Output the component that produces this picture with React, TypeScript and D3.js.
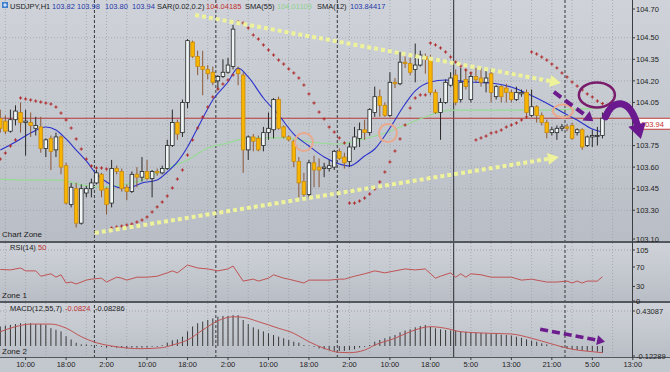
import React from "react"
import * as d3 from "d3"

const W = 670
const H = 372
const AXIS_X = 632

// USDJPY H1 bars, oldest first
const open = [
  103.94, 103.92, 103.85, 103.93, 103.98, 103.91, 103.91, 103.87, 103.88, 103.73,
  103.80, 103.72, 103.81, 103.61, 103.34, 103.45, 103.21, 103.42, 103.45, 103.49,
  103.55, 103.45, 103.35, 103.59, 103.57, 103.46, 103.43, 103.55, 103.53, 103.57,
  103.52, 103.57, 103.56, 103.59, 103.75, 103.91, 103.84, 104.05, 104.47, 104.37,
  104.30, 104.28, 104.26, 104.20, 104.23, 104.26, 104.30, 104.28, 104.24, 103.72,
  103.81, 103.80, 103.75, 103.84, 103.86, 104.07, 103.88, 103.81, 103.78, 103.64,
  103.50, 103.41, 103.63, 103.60, 103.59, 103.59, 103.60, 103.71, 103.67, 103.64,
  103.74, 103.80, 103.86, 103.84, 103.98, 104.09, 104.03, 103.96, 104.19, 104.18,
  104.33, 104.32, 104.28, 104.31, 104.37, 104.35, 104.12, 103.98, 104.05, 104.17,
  104.24, 104.07, 104.21, 104.07, 104.23, 104.22, 104.19, 104.25, 104.09, 104.16,
  104.15, 104.12, 104.07, 104.11, 104.12, 103.96, 104.02, 103.96, 103.91, 103.84,
  103.84, 103.87, 103.88, 103.89, 103.84, 103.86, 103.75, 103.81, 103.82, 103.82,
]
const high = [
  104.00, 103.96, 104.00, 104.03, 104.05, 104.00, 103.98, 103.95, 103.95, 103.80,
  103.82, 103.84, 103.82, 103.63, 103.49, 103.49, 103.48, 103.47, 103.52, 103.58,
  103.56, 103.46, 103.65, 103.61, 103.59, 103.48, 103.57, 103.60, 103.67, 103.65,
  103.58, 103.59, 103.61, 103.79, 104.00, 103.93, 104.07, 104.49, 104.48, 104.41,
  104.41, 104.31, 104.30, 104.24, 104.35, 104.36, 104.59, 104.30, 104.26, 103.82,
  103.83, 103.82, 103.88, 103.98, 104.08, 104.09, 103.89, 103.82, 103.79, 103.67,
  103.56, 103.65, 103.68, 103.66, 103.63, 103.65, 103.72, 103.73, 103.70, 103.77,
  103.88, 103.91, 103.93, 104.01, 104.16, 104.14, 104.05, 104.26, 104.22, 104.40,
  104.37, 104.36, 104.46, 104.41, 104.39, 104.38, 104.14, 104.08, 104.21, 104.26,
  104.28, 104.29, 104.28, 104.26, 104.29, 104.29, 104.29, 104.28, 104.17, 104.17,
  104.18, 104.14, 104.16, 104.14, 104.14, 104.14, 104.03, 103.98, 103.93, 103.88,
  103.89, 103.90, 103.90, 103.91, 103.87, 103.87, 103.82, 103.86, 103.88, 103.98,
]
const low = [
  103.84, 103.83, 103.84, 103.89, 103.84, 103.68, 103.81, 103.82, 103.70, 103.67,
  103.58, 103.67, 103.55, 103.34, 103.32, 103.18, 103.20, 103.39, 103.39, 103.48,
  103.39, 103.27, 103.32, 103.55, 103.43, 103.37, 103.42, 103.46, 103.50, 103.51,
  103.39, 103.54, 103.55, 103.58, 103.74, 103.79, 103.81, 104.01, 104.36, 104.24,
  104.10, 104.21, 104.17, 104.14, 104.22, 104.25, 104.28, 104.17, 103.56, 103.65,
  103.71, 103.71, 103.71, 103.79, 103.80, 103.86, 103.80, 103.78, 103.60, 103.39,
  103.37, 103.39, 103.46, 103.46, 103.53, 103.57, 103.58, 103.65, 103.59, 103.60,
  103.72, 103.74, 103.79, 103.82, 103.95, 103.95, 103.95, 103.95, 104.15, 104.17,
  104.29, 104.24, 104.19, 104.30, 104.25, 104.10, 103.97, 103.79, 104.04, 104.16,
  104.03, 104.05, 104.14, 104.05, 104.19, 104.16, 104.12, 104.05, 104.07, 104.05,
  104.05, 104.05, 104.06, 104.09, 103.96, 103.95, 103.91, 103.89, 103.80, 103.82,
  103.79, 103.85, 103.85, 103.79, 103.82, 103.72, 103.74, 103.74, 103.75, 103.80,
]
const close = [
  103.87, 103.85, 103.93, 103.99, 103.91, 103.92, 103.89, 103.89, 103.73, 103.79,
  103.71, 103.81, 103.60, 103.35, 103.46, 103.21, 103.45, 103.45, 103.49, 103.56,
  103.44, 103.34, 103.59, 103.57, 103.45, 103.43, 103.55, 103.53, 103.57, 103.52,
  103.57, 103.56, 103.59, 103.75, 103.91, 103.83, 104.05, 104.48, 104.37, 104.30,
  104.28, 104.25, 104.19, 104.23, 104.26, 104.31, 104.56, 104.25, 103.72, 103.81,
  103.78, 103.72, 103.84, 103.87, 104.07, 103.87, 103.81, 103.79, 103.64, 103.49,
  103.41, 103.63, 103.58, 103.58, 103.60, 103.61, 103.71, 103.66, 103.63, 103.74,
  103.81, 103.86, 103.84, 104.00, 104.09, 104.03, 103.96, 104.19, 104.18, 104.33,
  104.32, 104.26, 104.31, 104.38, 104.35, 104.12, 103.98, 104.05, 104.19, 104.22,
  104.05, 104.19, 104.16, 104.23, 104.21, 104.19, 104.22, 104.12, 104.16, 104.09,
  104.12, 104.07, 104.12, 104.12, 103.98, 104.02, 103.96, 103.91, 103.84, 103.86,
  103.87, 103.88, 103.87, 103.80, 103.86, 103.74, 103.81, 103.82, 103.82, 103.94,
]

// Parabolic SAR(0.02, 0.2), one dot per bar
const sar = [
  103.656, 103.698, 103.747, 103.789, 104.081, 104.074, 104.067, 104.06, 104.053, 104.046,
  104.039, 104.018, 103.976, 103.928, 103.872, 103.796, 103.726, 103.656, 103.608, 103.594,
  103.594, 103.587, 103.176, 103.183, 103.19, 103.197, 103.204, 103.218, 103.232, 103.253,
  103.288, 103.323, 103.357, 103.399, 103.455, 103.517, 103.58, 103.684, 103.789, 103.872,
  103.949, 104.018, 104.088, 104.143, 104.178, 104.206, 104.241, 104.61, 104.603, 104.568,
  104.519, 104.491, 104.45, 104.415, 104.38, 104.345, 104.317, 104.283, 104.255, 104.22,
  104.171, 104.109, 104.046, 103.983, 103.935, 103.879, 103.844, 103.803, 103.768, 103.35,
  103.35, 103.364, 103.385, 103.413, 103.448, 103.497, 103.566, 103.636, 103.712, 103.796,
  103.893, 104.011, 104.081, 104.102, 104.102, 104.463, 104.45, 104.429, 104.401, 104.366,
  104.331, 104.303, 104.276, 104.255, 103.789, 103.803, 103.816, 103.837, 103.844, 103.858,
  103.879, 103.893, 103.907, 103.928, 103.949, 104.401, 104.387, 104.366, 104.345, 104.317,
  104.29, 104.255, 104.227, 104.192, 104.164, 104.137, 104.109, 104.088, 104.06, 104.04185,
]

// moving averages, sampled at bar indices
const sma12Idx = [0, 3, 6, 9, 11, 13, 15, 17, 19, 21, 24, 26, 28, 31, 33, 35, 37, 39, 42, 45, 47, 49, 52, 55, 58, 61, 64, 67, 69, 72, 74, 77, 80, 82, 85, 88, 93, 97, 101, 103, 106, 109, 111, 114, 117, 119]
const sma12 = [103.719, 103.775, 103.837, 103.879, 103.858, 103.796, 103.719, 103.643, 103.552, 103.497, 103.455, 103.462, 103.49, 103.51, 103.566, 103.636, 103.74, 103.872, 104.067, 104.192, 104.29, 104.227, 104.081, 103.963, 103.83, 103.747, 103.67, 103.622, 103.608, 103.677, 103.726, 103.872, 104.039, 104.13, 104.192, 104.206, 104.192, 104.185, 104.157, 104.13, 104.081, 104.025, 103.983, 103.928, 103.865, 103.84417]
const sma55Idx = [0, 6, 12, 16, 20, 24, 28, 33, 37, 41, 45, 49, 56, 63, 67, 71, 76, 80, 84, 89, 95, 101, 108, 113, 119]
const sma55 = [103.517, 103.51, 103.51, 103.476, 103.462, 103.476, 103.51, 103.594, 103.65, 103.733, 103.768, 103.803, 103.803, 103.768, 103.761, 103.789, 103.837, 103.893, 103.949, 103.997, 103.997, 103.997, 103.997, 104.004, 104.01109]

// RSI(14)
const rsiIdx = [0, 2, 4, 5, 7, 8, 10, 11, 12, 13, 14, 15, 17, 18, 20, 21, 23, 24, 25, 27, 29, 31, 33, 34, 35, 37, 39, 41, 43, 45, 46, 48, 50, 51, 53, 54, 56, 57, 60, 61, 65, 67, 68, 70, 72, 74, 76, 78, 80, 82, 84, 86, 87, 89, 90, 91, 92, 93, 95, 97, 99, 101, 103, 105, 107, 108, 110, 112, 113, 114, 115, 116, 118, 119]
const rsi = [65, 64, 68, 62, 62, 51, 56, 49, 54, 37, 39, 35, 43, 45, 47, 39, 49, 47, 43, 49, 49, 51, 58, 62, 58, 74, 68, 66, 62, 66, 72, 41, 45, 41, 47, 54, 47, 45, 37, 43, 43, 45, 45, 51, 56, 62, 58, 62, 66, 64, 66, 47, 51, 58, 49, 56, 49, 56, 54, 49, 49, 49, 43, 45, 41, 39, 39, 41, 37, 41, 37, 41, 41, 50]

// MACD(12,55,7): main as bars, signal as line
const macd = [
  0.24, 0.25, 0.26, 0.27, 0.28, 0.28, 0.28, 0.27, 0.27, 0.26,
  0.22, 0.2, 0.18, 0.12, 0.08, 0.04, 0.02, 0.02, 0.01, 0.01,
  -0.01, -0.02, -0.01, -0.02, -0.02, -0.03, -0.02, -0.02, -0.02, -0.02,
  -0.01, -0.01, 0.01, 0.04, 0.07, 0.08, 0.115, 0.18, 0.24, 0.28,
  0.3, 0.32, 0.34, 0.36, 0.37, 0.37, 0.38, 0.38, 0.32, 0.27,
  0.23, 0.205, 0.18, 0.156, 0.135, 0.115, 0.095, 0.074, 0.053, 0.041,
  0.012, 0.005, -0.01, -0.03, -0.04, -0.05, -0.06, -0.06, -0.06, -0.05,
  -0.04, -0.02, -0.01, 0.012, 0.053, 0.074, 0.095, 0.115, 0.135, 0.168,
  0.19, 0.205, 0.23, 0.246, 0.259, 0.238, 0.218, 0.205, 0.197, 0.19,
  0.19, 0.176, 0.176, 0.168, 0.164, 0.16, 0.156, 0.156, 0.148, 0.14,
  0.135, 0.13, 0.115, 0.1, 0.082, 0.066, 0.053, 0.033, 0.02, 0.004,
  0, -0.02, -0.033, -0.04, -0.05, -0.057, -0.06, -0.066, -0.07, -0.0824,
]
const signalIdx = [0, 3, 6, 10, 13, 16, 19, 22, 25, 28, 32, 34, 37, 40, 43, 46, 48, 51, 55, 58, 59, 61, 64, 67, 69, 72, 74, 78, 81, 85, 88, 91, 97, 101, 105, 109, 113, 117, 119]
const signal = [0.176, 0.238, 0.27, 0.27, 0.22, 0.115, 0.04, 0, -0.025, -0.033, -0.02, 0.012, 0.074, 0.197, 0.31, 0.36, 0.353, 0.3, 0.218, 0.156, 0.123, 0.053, -0.028, -0.078, -0.082, -0.05, 0.012, 0.095, 0.176, 0.238, 0.218, 0.176, 0.156, 0.148, 0.095, 0.025, -0.04, -0.07, -0.08286]

// axes
const timeIdx = [5, 13, 21, 29, 37, 45, 53, 61, 69, 77, 85, 93, 101, 109, 117, 125]
const timeLabels = ["10:00", "18:00", "2:00", "10:00", "18:00", "2:00", "10:00", "18:00", "2:00", "10:00", "18:00", "5:00", "13:00", "21:00", "5:00", "13:00"]
const priceTicks = [104.7, 104.5, 104.35, 104.2, 104.05, 103.75, 103.6, 103.45, 103.3, 103.1]
const priceGrid = [104.5, 104.35, 104.2, 104.05, 103.9, 103.75, 103.6, 103.45, 103.3]
const rsiTicks = [105, 70, 30, 0]
const macdTicks = [0.43087, -0.12289]
const daySeps = [19, 43, 67, 112]
const weekSep = 90

// hand drawn marks, in (bar, value) units
const trendTop = [[38.5, 104.658], [110.8, 104.185]]
const trendBottom = [[18.7, 103.142], [110.4, 103.67]]
const pinkRings = [[60, 103.775], [76.6, 103.837], [111.2, 103.99]]
const purpleRing = [117.9, 104.102]
const purpleDash = [[109.4, 104.123], [117.2, 103.92]]
const purpleCurve = [[119.6, 103.95], [121, 104.07], [124.2, 104.09], [125.6, 103.93], [126.6, 103.796]]
const macdArrow = [[106.7, 0.2057], [119.5, 0.053]]

const x = d3.scaleLinear().domain([0, 125]).range([0.3, 632.8])
const yP = d3.scaleLinear().domain([103.1, 104.7]).range([239, 9])
const yR = d3.scaleLinear().domain([0, 105]).range([301, 250])
const yM = d3.scaleLinear().domain([-0.12289, 0.43087]).range([356, 311])

const FONT = "'Liberation Sans', Arial, sans-serif"

function arrow(p1: number[], p2: number[], head: number, spread: number) {
  const dx = p2[0] - p1[0], dy = p2[1] - p1[1]
  const len = Math.hypot(dx, dy)
  const ux = dx / len, uy = dy / len
  const bx = p2[0] - ux * head, by = p2[1] - uy * head
  const tri = [[p2[0], p2[1]], [bx - uy * spread, by + ux * spread], [bx + uy * spread, by - ux * spread]]
  return { end: [bx, by], tri: tri.map(p => p.join(",")).join(" ") }
}

function DottedArrow({ pts, color, yScale, w, dash, head, spread }: any) {
  const p1 = [x(pts[0][0]), yScale(pts[0][1])]
  const p2 = [x(pts[1][0]), yScale(pts[1][1])]
  const a = arrow(p1, p2, head, spread)
  return (
    <g>
      <line x1={p1[0]} y1={p1[1]} x2={a.end[0]} y2={a.end[1]} stroke={color} strokeWidth={w} strokeDasharray={dash} />
      <polygon points={a.tri} fill={color} />
    </g>
  )
}

export default function App() {
  const bars = d3.range(open.length)
  const grid = d3.range(1, 122, 4)

  const lineP = (idx: number[]) => d3.line<number>().x((_, i) => x(idx[i])).y(d => yP(d)).curve(d3.curveMonotoneX)
  const rsiLine = d3.line<number>().x((_, i) => x(rsiIdx[i])).y(d => yR(d))
  const sigLine = d3.line<number>().x((_, i) => x(signalIdx[i])).y(d => yM(d)).curve(d3.curveMonotoneX)

  const last = close[close.length - 1]
  const lastY = yP(last)

  // curved purple arrow off the last bar
  const cv = purpleCurve.map(p => [x(p[0]), yP(p[1])])
  const cHead = arrow(cv[3], cv[4], 15, 9)
  const curvePath = `M${cv[0]}C${cv[1]} ${cv[2]} ${cHead.end}`

  const header = [
    { t: "USDJPY,H1", x: 10, c: "#1c1c1c" },
    { t: open[119].toFixed(2), x: 52, c: "#2838a8" },
    { t: high[119].toFixed(2), x: 77, c: "#2838a8" },
    { t: low[119].toFixed(2), x: 105, c: "#2838a8" },
    { t: close[119].toFixed(2), x: 132, c: "#2838a8" },
    { t: "SAR(0.02,0.2)", x: 157, c: "#1c1c1c" },
    { t: sar[119].toFixed(5), x: 206, c: "#c03030" },
    { t: "SMA(55)", x: 245, c: "#1c1c1c" },
    { t: sma55[sma55.length - 1].toFixed(5), x: 277, c: "#8ed08e" },
    { t: "SMA(12)", x: 317, c: "#1c1c1c" },
    { t: sma12[sma12.length - 1].toFixed(5), x: 350, c: "#2838a8" },
  ]

  return (
    <div style={{ width: W, height: H }}>
      <style>{`body{margin:0}`}</style>
      <svg width={W} height={H} style={{ display: "block", fontFamily: FONT }}>
        <defs>
          <linearGradient id="pane" x1="0" y1="0" x2="0" y2="1">
            <stop offset="0" stopColor="#cfd3d9" />
            <stop offset="1" stopColor="#b9bdc5" />
          </linearGradient>
        </defs>
        <rect width={W} height={H} fill="#c3c7ce" />
        <rect x={0} y={0} width={W} height={241} fill="url(#pane)" />
        <rect x={0} y={243} width={W} height={58} fill="url(#pane)" />
        <rect x={0} y={303} width={W} height={54} fill="url(#pane)" />

        {/* grid */}
        {grid.map(i => (
          <line key={"g" + i} x1={x(i)} x2={x(i)} y1={0} y2={357} stroke="#9ca1a9" strokeWidth={0.8} strokeDasharray="1 2" />
        ))}
        {priceGrid.map(p => (
          <line key={"h" + p} x1={0} x2={AXIS_X} y1={yP(p)} y2={yP(p)} stroke="#9ca1a9" strokeWidth={0.8} strokeDasharray="1 2" />
        ))}
        <line x1={0} x2={AXIS_X} y1={yR(105)} y2={yR(105)} stroke="#9ca1a9" strokeDasharray="1 2" />
        <line x1={0} x2={AXIS_X} y1={yM(0.43087)} y2={yM(0.43087)} stroke="#9ca1a9" strokeDasharray="1 2" />
        {daySeps.map(i => (
          <line key={"d" + i} x1={x(i - 0.4)} x2={x(i - 0.4)} y1={0} y2={357} stroke="#33363b" strokeWidth={1} strokeDasharray="3 2" />
        ))}
        <line x1={x(weekSep - 0.4)} x2={x(weekSep - 0.4)} y1={0} y2={357} stroke="#2a2c30" strokeWidth={1} />

        {/* price line */}
        <line x1={0} x2={638} y1={lastY} y2={lastY} stroke="#b83a3a" strokeWidth={1} />

        {/* moving averages */}
        <path d={lineP(sma55Idx)(sma55) || ""} fill="none" stroke="#96dc94" strokeWidth={1.2} />
        <path d={lineP(sma12Idx)(sma12) || ""} fill="none" stroke="#2a32cc" strokeWidth={1.1} />

        {/* candles */}
        {bars.map(i => {
          const up = close[i] >= open[i]
          const yo = yP(open[i]), yc = yP(close[i])
          const top = Math.min(yo, yc)
          const h = Math.max(1, Math.abs(yo - yc))
          return (
            <g key={"c" + i}>
              <line x1={x(i)} x2={x(i)} y1={yP(high[i])} y2={yP(low[i])} stroke={up ? "#2a2a2a" : "#8a5838"} strokeWidth={1} />
              <rect x={x(i) - 1.8} y={top} width={3.6} height={h} fill={up ? "#eef5f4" : "#f7b500"} stroke={up ? "#262626" : "#c98a10"} strokeWidth={0.8} />
            </g>
          )
        })}

        {/* SAR */}
        {sar.map((v, i) => (
          <path key={"s" + i} d={`M${x(i) - 1.6},${yP(v)}h3.2M${x(i)},${yP(v) - 1.6}v3.2`} stroke="#b02a2a" strokeWidth={1} />
        ))}

        {/* RSI */}
        <path d={rsiLine(rsi) || ""} fill="none" stroke="#c05454" strokeWidth={1} />

        {/* MACD */}
        {macd.map((v, i) => (
          <line key={"m" + i} x1={x(i)} x2={x(i)} y1={yM(0)} y2={yM(v)} stroke="#3a3a3a" strokeWidth={1} />
        ))}
        <path d={sigLine(signal) || ""} fill="none" stroke="#c05454" strokeWidth={1} />

        {/* frames */}
        <rect x={0} y={241} width={W} height={2} fill="#53575e" />
        <rect x={0} y={301} width={W} height={2} fill="#53575e" />
        <line x1={0} x2={W} y1={357.5} y2={357.5} stroke="#53575e" />
        <line x1={AXIS_X + 0.5} x2={AXIS_X + 0.5} y1={0} y2={358} stroke="#3a3d42" />

        {/* right axis */}
        <g fontSize={7.5} fill="#1e1e1e">
          {priceTicks.map(p => (
            <g key={"pt" + p}>
              <line x1={AXIS_X} x2={AXIS_X + 3} y1={yP(p)} y2={yP(p)} stroke="#3a3d42" />
              <text x={636} y={yP(p)} dy="0.35em">{p.toFixed(2)}</text>
            </g>
          ))}
          {rsiTicks.map(v => (
            <g key={"rt" + v}>
              <line x1={AXIS_X} x2={AXIS_X + 3} y1={yR(v)} y2={yR(v)} stroke="#3a3d42" />
              <text x={636} y={yR(v)} dy="0.35em">{v}</text>
            </g>
          ))}
          {macdTicks.map(v => (
            <g key={"mt" + v}>
              <line x1={AXIS_X} x2={AXIS_X + 3} y1={yM(v)} y2={yM(v)} stroke="#3a3d42" />
              <text x={636} y={yM(v)} dy="0.35em">{v.toFixed(5)}</text>
            </g>
          ))}
        </g>

        {/* price box */}
        <rect x={638} y={lastY} width={40} height={11} fill="#ffffff" stroke="#c03a3a" />
        <text x={641} y={lastY + 8.5} fontSize={7.5} fill="#c03030">{last.toFixed(2)}</text>

        {/* annotations */}
        <DottedArrow pts={trendTop} yScale={yP} color="#eef29a" w={4} dash="4 3" head={11} spread={6} />
        <DottedArrow pts={trendBottom} yScale={yP} color="#eef29a" w={4} dash="4 3" head={11} spread={6} />
        {pinkRings.map((p, i) => (
          <ellipse key={"r" + i} cx={x(p[0])} cy={yP(p[1])} rx={i === 2 ? 10 : 9} ry={i === 2 ? 6.5 : 9} fill="none" stroke="#eaa88c" strokeWidth={2} />
        ))}
        <ellipse cx={x(purpleRing[0])} cy={yP(purpleRing[1])} rx={18} ry={12.5} fill="none" stroke="#7a1c6c" strokeWidth={2.5} />
        <DottedArrow pts={purpleDash} yScale={yP} color="#6c1c8c" w={4} dash="9 5" head={9} spread={6} />
        <path d={curvePath} fill="none" stroke="#6a1a8e" strokeWidth={7} strokeLinecap="round" />
        <polygon points={cHead.tri} fill="#6a1a8e" />
        <DottedArrow pts={macdArrow} yScale={yM} color="#6c1c8c" w={3.5} dash="8 4" head={8} spread={5} />

        {/* time axis */}
        <g fontSize={7.5} fill="#1e1e1e" textAnchor="middle">
          {timeIdx.map((t, k) => (
            <g key={"t" + k}>
              <line x1={x(t)} x2={x(t)} y1={357} y2={360} stroke="#3a3d42" />
              <text x={x(t)} y={367}>{timeLabels[k]}</text>
            </g>
          ))}
        </g>

        {/* header and pane titles */}
        <rect x={2} y={2} width={6} height={6} fill="#3d7fcf" />
        <path d="M5,3.2v3.6M3.2,5h3.6" stroke="#ffffff" strokeWidth={1} />
        <g fontSize={7.5}>
          {header.map((h, k) => (
            <text key={"hd" + k} x={h.x} y={8.5} fill={h.c}>{h.t}</text>
          ))}
          <text x={2} y={237} fill="#1c1c1c" fontSize={8}>Chart Zone</text>
          <text x={10} y={250} fill="#1c1c1c">RSI(14)</text>
          <text x={38} y={250} fill="#c03030">{rsi[rsi.length - 1]}</text>
          <text x={2} y={298} fill="#1c1c1c" fontSize={8}>Zone 1</text>
          <text x={10} y={311} fill="#1c1c1c">MACD(12,55,7)</text>
          <text x={65} y={311} fill="#c03030">{macd[macd.length - 1].toFixed(4)}</text>
          <text x={95} y={311} fill="#1c1c1c">{signal[signal.length - 1].toFixed(5)}</text>
          <text x={2} y={354} fill="#1c1c1c" fontSize={8}>Zone 2</text>
        </g>
      </svg>
    </div>
  )
}
